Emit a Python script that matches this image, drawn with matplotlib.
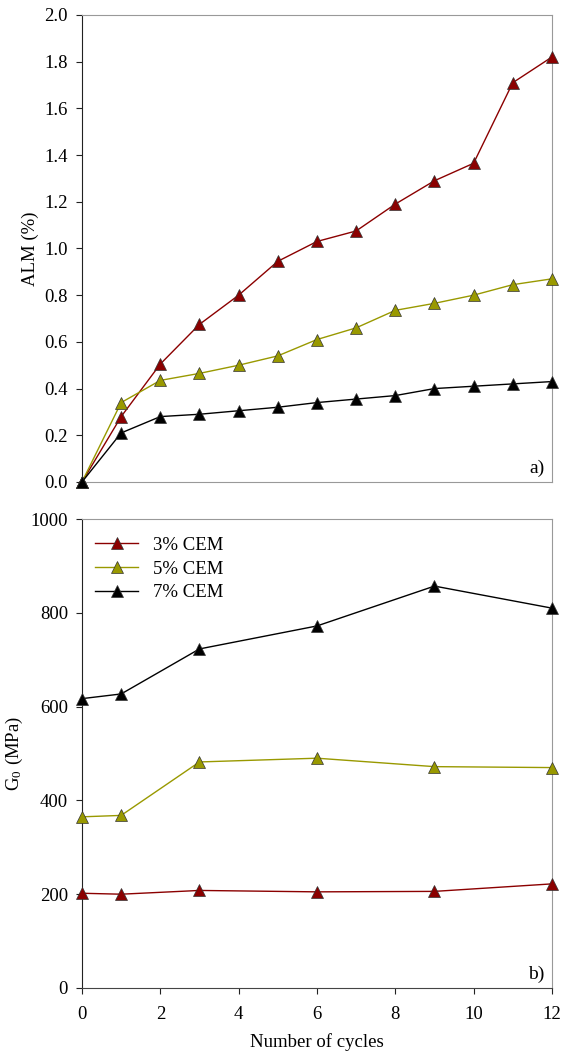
import numpy as np
import matplotlib.pyplot as plt

plt.rcParams['font.family'] = ['Liberation Serif', 'DejaVu Serif']
plt.rcParams['mathtext.fontset'] = 'stix'

cycles_a = np.arange(0, 13)
alm_3 = [0, 0.28, 0.505, 0.675, 0.80, 0.945, 1.03, 1.075, 1.19, 1.29, 1.365, 1.71, 1.82]
alm_5 = [0, 0.34, 0.435, 0.465, 0.50, 0.54, 0.61, 0.66, 0.735, 0.765, 0.80, 0.845, 0.87]
alm_7 = [0, 0.21, 0.28, 0.29, 0.305, 0.32, 0.34, 0.355, 0.37, 0.40, 0.41, 0.42, 0.43]

cycles_b = [0, 1, 3, 6, 9, 12]
g0_3 = [202, 200, 208, 205, 206, 222]
g0_5 = [365, 368, 482, 490, 472, 470]
g0_7 = [617, 627, 723, 772, 857, 810]

labels = ['3% CEM', '5% CEM', '7% CEM']
colors = ['#8b0000', '#999900', '#000000']

fig = plt.figure(figsize=(5.71, 10.56), dpi=100)
ax1 = fig.add_axes([0.1436, 0.5436, 0.823, 0.4422])
ax2 = fig.add_axes([0.1436, 0.0644, 0.823, 0.4441])

for ys, c, lab in zip([alm_3, alm_5, alm_7], colors, labels):
    ax1.plot(cycles_a, ys, '-', color=c, lw=1, marker='^', ms=9,
             mfc=c, mec='#333333', mew=0.5, label=lab, clip_on=False, zorder=3)
for ys, c, lab in zip([g0_3, g0_5, g0_7], colors, labels):
    ax2.plot(cycles_b, ys, '-', color=c, lw=1, marker='^', ms=9,
             mfc=c, mec='#333333', mew=0.5, label=lab, clip_on=False, zorder=3)

ax1.set_xlim(0, 12)
ax1.set_ylim(0, 2.0)
ax1.set_yticks(np.arange(0, 2.01, 0.2))
ax1.set_yticklabels(['%.1f' % v for v in np.arange(0, 2.01, 0.2)])
ax1.set_xticks([])
ax1.set_ylabel('ALM (%)', fontsize=13.5)
ax1.text(0.985, 0.01, 'a)', transform=ax1.transAxes, ha='right', va='bottom', fontsize=14)

ax2.set_xlim(0, 12)
ax2.set_ylim(0, 1000)
ax2.set_xticks(range(0, 13, 2))
ax2.set_yticks(range(0, 1001, 200))
ax2.set_ylabel('G$_{\\mathregular{0}}$ (MPa)', fontsize=13.5)
ax2.set_xlabel('Number of cycles', fontsize=13.5, labelpad=7)
ax2.text(0.985, 0.01, 'b)', transform=ax2.transAxes, ha='right', va='bottom', fontsize=14)
ax2.legend(loc='upper left', frameon=False, fontsize=13.5, handlelength=2.3,
           labelspacing=0.35, handletextpad=0.8, borderaxespad=0.3,
           bbox_to_anchor=(0.0, 0.99))

for ax in (ax1, ax2):
    for s in ax.spines.values():
        s.set_color('#999999')
    ax.spines['left'].set_color('#222222')
    ax.tick_params(labelsize=13.5, direction='out', length=4, pad=6, color='#222222')
ax2.spines['bottom'].set_color('#444444')
ax2.tick_params(axis='x', pad=9)

plt.savefig('out.png', dpi=100, facecolor='w', edgecolor='w')
